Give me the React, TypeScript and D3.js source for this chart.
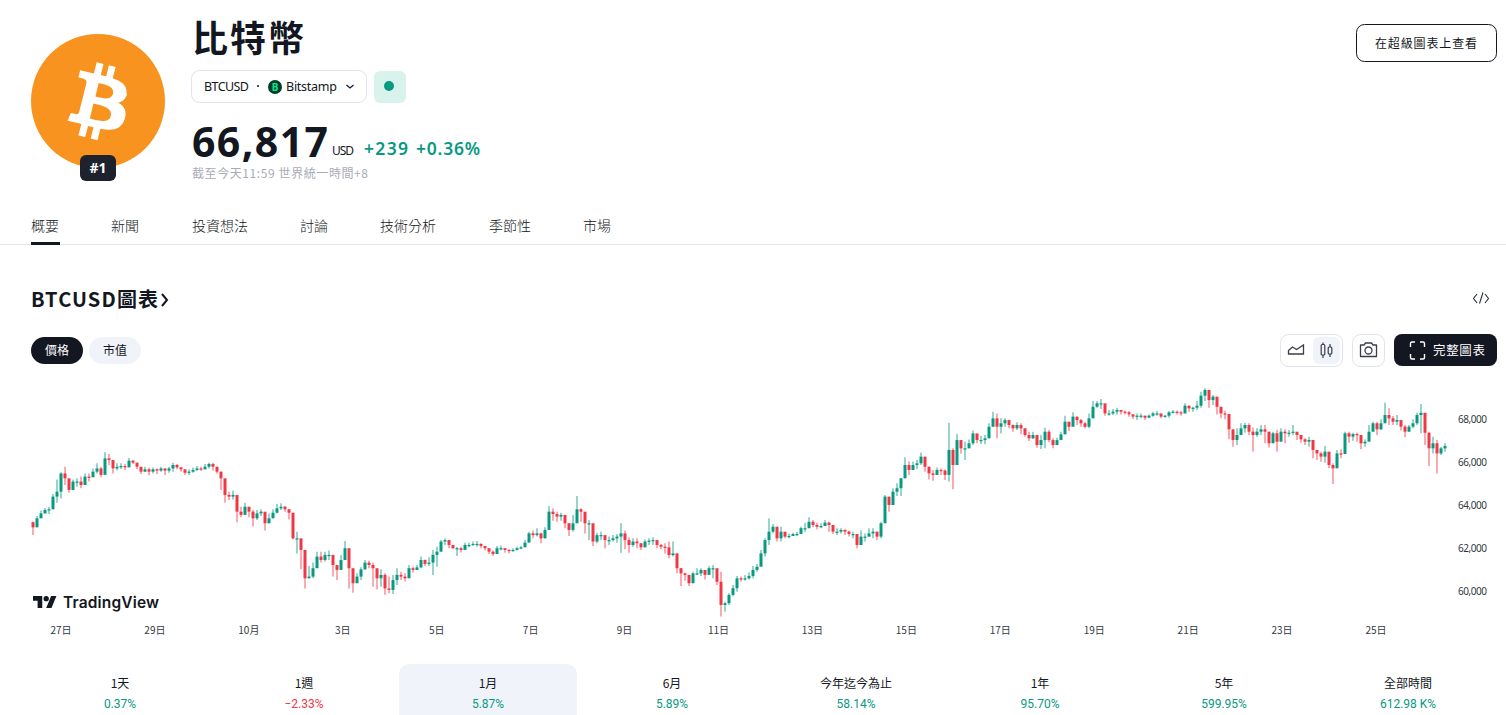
import React from "react";
import * as d3 from "d3";

const UP = "#089981";
const DOWN = "#F23645";
const INK = "#131722";
const CJK = "'Noto Sans CJK TC','Noto Sans',sans-serif";
const LATIN = "'Noto Sans','Noto Sans CJK TC',sans-serif";

const firstOpen = 63200;
const closes = [
  62960,63380,63610,63770,63800,64390,64620,65470,65240,64700,65090,65090,64930,65320,65290,65550,65700,65400,66170,66090,65700,65780,65810,65750,66060,65970,65780,65550,65660,65550,65660,65600,65700,65600,65700,65860,65750,65660,65500,65550,65630,65700,65660,65780,65910,65780,65550,65240,64470,64390,64470,63690,63540,63920,63690,63380,63610,63690,63150,
  63380,63640,63845,63920,63800,63640,62450,62450,61910,60590,60670,61060,61600,61440,61680,61680,61210,60980,61440,61990,61060,60360,60670,61010,61320,61210,61060,60590,60750,60120,60050,60510,60750,60670,60590,61060,60980,61100,61440,61260,61320,61680,61830,62300,62370,62140,61990,61990,61910,62140,62140,62190,62190,62090,61990,61830,61720,61990,61990,
  61910,61880,61910,61990,62030,62250,62680,62600,62680,62450,62840,63690,63580,63460,63540,63150,62840,63150,63800,63690,63150,63150,62300,62600,62600,62370,62370,62450,62530,62680,62370,62140,62300,62220,62030,62300,62340,62370,62140,62060,62030,61670,61750,61060,60820,60750,60360,60820,60820,60980,60750,61060,61060,60430,59350,59430,59820,60130,60590,60540,
  60590,60700,60980,61130,61750,62370,62760,62990,62450,62760,62530,62560,62650,62650,62920,62920,63220,63070,62990,63020,63180,63070,62760,62760,62840,62760,62650,62650,62140,62530,62530,62680,62760,62530,63150,64390,64000,64620,64780,65240,65860,65630,65860,65940,66250,65780,65470,65400,65630,65600,65400,66560,65860,67020,66635,66635,66870,67330,67020,67020,
  67100,67640,68030,67640,67800,67950,67720,67565,67720,67565,67255,67100,67255,66790,67020,67410,67020,66790,67020,67285,67875,67640,68110,67950,67800,67640,68030,68570,68730,68730,68260,68260,68340,68420,68340,68310,68215,68110,68155,68155,68060,68155,68260,68260,68110,68155,68310,68340,68310,68260,68620,68495,68525,68620,69085,69350,68880,69040,68570,68260,
  68230,67520,67025,67255,67565,67720,67410,67255,67410,67520,67410,66870,67335,66945,67410,67335,67360,67410,67255,67055,66945,67025,66560,66400,66250,66480,65860,65705,66400,66370,67335,67180,67300,67255,66870,66945,67410,67800,67520,67800,68185,68030,67875,67950,67645,67410,67645,67800,68185,68290,67360,66635,66870,66400,66635,66745,
];
const highs = [
  63230,63490,63740,63850,63920,64510,65190,65520,65780,65160,65190,65240,65320,65470,65470,65700,65940,65780,66450,66370,65940,65940,65940,65910,66190,66090,65910,65750,65780,65750,65750,65700,65780,65700,65780,65970,65910,65750,65630,65660,65750,65810,65780,65910,65970,65970,65750,65550,64730,64620,64670,64310,63920,64110,63850,63770,63770,63800,63540,
  63610,63800,64050,64080,63950,63800,62990,62760,62370,61600,61160,61320,61830,61830,61830,61880,61470,61210,61680,62330,61630,60900,60820,61100,61440,61410,61320,60980,61010,60820,60670,60750,61060,60900,60820,61210,61130,61210,61600,61470,61570,61910,62060,62370,62450,62370,62140,62060,62060,62250,62250,62300,62330,62220,62090,61940,61880,62090,62120,
  61990,61940,61990,62060,62090,62370,62760,62810,62920,62710,62960,63950,63850,63690,63640,63540,63150,63540,64420,63850,63430,63300,62680,62710,62760,62530,62530,62600,62650,63150,62810,62500,62450,62450,62220,62400,62450,62500,62300,62190,62220,62300,62300,61750,61060,60850,60590,60900,61060,61060,60980,61160,61210,60900,60900,59500,59890,60280,60700,60670,
  60750,60860,61160,61260,61910,62450,63380,63120,62920,62990,62710,62680,62710,62745,62990,63180,63430,63300,63180,63150,63300,63220,62920,62920,62920,62870,62810,62760,62600,62810,62680,62920,62920,62760,63220,64470,64160,64780,65010,65240,66220,66020,66020,66090,66440,66090,65780,65630,65750,65700,65660,67830,66635,67300,67020,66945,67050,67460,67300,67210,
  67255,67800,68340,68260,68030,68030,67905,67750,67845,67800,67565,67410,67410,67255,67255,67595,67490,67100,67130,67410,68155,67800,68310,68110,68000,67875,68260,68840,68840,68930,68495,68420,68465,68525,68420,68400,68370,68215,68260,68260,68155,68215,68340,68370,68215,68185,68370,68420,68400,68370,68730,68620,68570,68840,69270,69425,69145,69115,68805,68465,
  68385,68030,67410,67565,67800,67830,67800,67610,67565,67720,67720,67055,67410,67490,67565,67520,67490,67720,67335,67255,67100,67180,66870,66560,66480,66745,66125,65940,66560,66590,67410,67410,67360,67360,67180,67055,67720,67875,67875,67985,68760,68495,68140,68185,67800,67720,67720,67985,68290,68700,67800,67410,67180,67025,66715,66870,
];
const lows = [
  62600,63230,63490,63610,63580,64080,64110,64310,64930,64570,64700,64850,64780,65090,65090,65320,65470,65290,65700,65860,65470,65600,65660,65630,65910,65910,65660,65440,65550,65380,65470,65440,65550,65400,65500,65550,65660,65550,65400,65400,65500,65580,65580,65660,65700,65600,65470,64700,64110,64230,64260,63200,63430,63580,63430,63000,63300,63490,62810,
  63150,63380,63610,63770,63690,63330,62400,61750,61010,60120,60590,60590,61440,61320,61370,61440,60670,60510,61060,61520,60120,59920,60510,60510,60980,61060,60200,60080,60200,59820,59890,59860,60280,60510,60440,60670,60850,60980,61060,61160,61160,60750,61130,61830,62140,61990,61940,61630,61790,61990,62030,62110,62060,61990,61880,61720,61630,61830,61880,
  61780,61750,61830,61880,61940,62060,62370,62450,62530,62220,62450,62870,63270,63220,63270,62920,62560,62760,63430,63220,62680,62370,62090,62220,62370,61990,62140,62300,62250,61780,61940,61780,62060,61990,61910,62060,62140,62140,61990,61940,61750,61520,61600,60820,60230,60480,60230,60700,60750,60700,60540,60900,60590,60280,58810,59040,59350,59740,59970,60430,
  60480,60540,60590,60900,61210,61600,62140,62680,62300,62300,62450,62450,62560,62560,62710,62760,62920,62960,62870,62920,63020,62760,62650,62600,62680,62600,62530,62450,61990,62250,62300,62530,62450,62370,62450,63610,63690,64260,64420,64420,65470,65400,65630,65660,65860,65550,65190,65130,65400,65400,65160,65090,64730,66480,66400,66090,66635,66790,66870,66840,
  66820,67100,67640,67100,67330,67640,67565,67410,67490,67285,67180,66975,67070,66665,66605,66635,66915,66635,66820,67130,67410,67440,67720,67720,67640,67565,67565,68110,68525,68465,68155,68155,68185,68215,68215,68215,68110,68000,67950,68030,67950,68060,68110,68155,68030,68060,68060,68260,68215,68155,68260,68340,68340,68420,68525,68840,68525,68650,68215,68030,
  67985,67055,66715,66790,67335,67360,67255,66480,67180,67255,66870,66680,66990,66480,67025,66870,67180,67255,67025,66900,66790,66715,66170,66090,66015,65970,65705,64977,66015,66170,66435,66900,66990,66945,66590,66715,67180,67410,67255,67490,67875,67720,67720,67720,67460,67150,67410,67565,67720,67335,66790,65815,66400,65470,66325,66480,
];

const priceTicks = [60000, 62000, 64000, 66000, 68000];
const timeLabels = ["27日","29日","10月","3日","5日","7日","9日","11日","13日","15日","17日","19日","21日","23日","25日"];
const navLabels = ["概要","新聞","投資想法","討論","技術分析","季節性","市場"];
const navStarts = [31,111,192,300,380,489,583];
const periodLabels = ["1天","1週","1月","6月","今年迄今為止","1年","5年","全部時間"];
const periodValues = ["0.37%","−2.33%","5.87%","5.89%","58.14%","95.70%","599.95%","612.98 K%"];

const W = 1506, H = 715;
const x = d3.scaleLinear().domain([0, 353]).range([33, 1445]);
const y = d3.scaleLinear().domain([60000, 68000]).range([591, 419]);
const tx = d3.scaleLinear().domain([0, timeLabels.length - 1]).range([61, 1376]);
const px = d3.scaleLinear().domain([0, periodLabels.length - 1]).range([120, 1408]);
const fmt = d3.format(",");

const BTC = "M46.1 27.4c.6-4.3-2.6-6.6-7.1-8.1l1.5-5.8-3.5-.9-1.4 5.7c-.9-.2-1.9-.5-2.8-.7l1.4-5.7-3.5-.9-1.5 5.8c-.8-.2-1.5-.3-2.2-.5l-4.9-1.2-.9 3.8s2.6.6 2.6.6c1.4.4 1.7 1.3 1.6 2l-1.6 6.5-2.3 9.1c-.2.4-.6 1.1-1.6.8 0 0-2.6-.6-2.6-.6l-1.7 4 4.6 1.1c.9.2 1.7.4 2.5.6l-1.5 5.9 3.5.9 1.5-5.8c1 .3 1.9.5 2.8.7l-1.4 5.8 3.5.9 1.5-5.9c6 1.1 10.6.7 12.5-4.8 1.5-4.4-.1-7-3.3-8.7 2.4-.5 4.2-2.1 4.7-5.3zm-8.1 11.4c-1.1 4.4-8.5 2-10.9 1.4l1.9-7.8c2.4.6 10.2 1.8 9 6.4zm1.1-11.5c-1 4-7.2 2-9.1 1.5l1.7-7c2 .5 8.5 1.4 7.4 5.5z";

function Candles() {
  return (
    <g>
      {closes.map((c, i) => {
        const o = i === 0 ? firstOpen : closes[i - 1];
        const col = c >= o ? UP : DOWN;
        const top = Math.min(y(o), y(c));
        const h = Math.max(1.2, Math.abs(y(o) - y(c)));
        return (
          <g key={i}>
            <line x1={x(i)} x2={x(i)} y1={y(highs[i])} y2={y(lows[i])} stroke={col} strokeWidth={2} strokeOpacity={0.42} />
            <rect x={x(i) - 1.5} width={3} y={top} height={h} fill={col} />
          </g>
        );
      })}
    </g>
  );
}

export default function App() {
  return (
    <svg width={W} height={H} viewBox={`0 0 ${W} ${H}`} style={{ position: "absolute", left: 0, top: 0, background: "#fff" }}>
      {/* header */}
      <circle cx={98} cy={101} r={67} fill="#F7931E" />
      <g transform="translate(37.5,41) scale(1.93)"><path d={BTC} fill="#fff" /></g>
      <rect x={80} y={155} width={36} height={26} rx={6} fill="#1E222D" />
      <text x={98} y={173} textAnchor="middle" fontFamily={LATIN} fontWeight={700} fontSize={14} fill="#fff">#1</text>
      <text x={192} y={52} fontFamily={CJK} fontWeight={600} fontSize={36} fill={INK} textLength={112}>比特幣</text>

      <rect x={191.5} y={70.5} width={175} height={32} rx={8} fill="#fff" stroke="#E0E3EB" />
      <text x={204} y={91} fontFamily={LATIN} fontSize={12.5} fill={INK} textLength={45}>BTCUSD</text>
      <circle cx={258} cy={86} r={1} fill={INK} />
      <circle cx={275} cy={87} r={7} fill="#003F2B" />
      <text x={275} y={91} textAnchor="middle" fontFamily={LATIN} fontWeight={700} fontSize={10} fill="#19E08A">B</text>
      <text x={286} y={91} fontFamily={LATIN} fontSize={12.5} fill={INK} textLength={51}>Bitstamp</text>
      <path d="M346.5 85l3.5 3 3.5-3" fill="none" stroke={INK} strokeWidth={1.2} />
      <rect x={374} y={71} width={32} height={32} rx={6} fill="#DAF2EC" />
      <circle cx={389} cy={86} r={5} fill={UP} />

      <text x={192} y={156.5} fontFamily={LATIN} fontWeight={700} fontSize={41} fill={INK} textLength={136}>66,817</text>
      <text x={332} y={155} fontFamily={LATIN} fontSize={12} fill={INK} textLength={22}>USD</text>
      <text x={364} y={155} fontFamily={LATIN} fontWeight={600} fontSize={17.5} fill={UP} textLength={44}>+239</text>
      <text x={416} y={155} fontFamily={LATIN} fontWeight={600} fontSize={17.5} fill={UP} textLength={64}>+0.36%</text>
      <text x={192} y={178} fontFamily={CJK} fontSize={12} fill="#A8ACB8" textLength={176}>截至今天11:59 世界統一時間+8</text>

      <rect x={1356.5} y={24.5} width={140} height={37} rx={8} fill="#fff" stroke={INK} />
      <text x={1426} y={48} textAnchor="middle" fontFamily={CJK} fontSize={12} fill={INK} textLength={102}>在超級圖表上查看</text>

      {/* tabs */}
      {navLabels.map((t, i) => (
        <text key={t} x={navStarts[i]} y={231} fontFamily={CJK} fontWeight={300} fontSize={14} fill={INK}>{t}</text>
      ))}
      <line x1={0} x2={W} y1={244.5} y2={244.5} stroke="#E0E3EB" />
      <rect x={31} y={242} width={29} height={3} fill={INK} />

      {/* section head */}
      <text x={31} y={307} fontFamily={CJK} fontWeight={600} fontSize={20} fill={INK} textLength={127}>BTCUSD圖表</text>
      <path d="M162 294l5 6-5 6" fill="none" stroke={INK} strokeWidth={2} />
      <path d="M1477 294l-3.500 4.500 3.500 4.500M1485 294l3.500 4.500-3.500 4.500M1483 292.500l-3.500 11" fill="none" stroke="#2A2E39" strokeWidth={1.1} />

      <rect x={31} y={337} width={52} height={27} rx={13.5} fill={INK} />
      <text x={57} y={355} textAnchor="middle" fontFamily={CJK} fontSize={12} fill="#fff">價格</text>
      <rect x={89} y={337} width={52} height={27} rx={13.5} fill="#F0F3FA" />
      <text x={115} y={355} textAnchor="middle" fontFamily={CJK} fontSize={12} fill={INK}>市值</text>

      <rect x={1280.5} y={334.5} width={62} height={32} rx={8} fill="#fff" stroke="#E0E3EB" />
      <rect x={1313} y={337} width={27} height={27} rx={6} fill="#F0F3FA" />
      <path d="M1288.500 350.500l4-3.500 4 2.500 7-4.500v9h-15z" fill="none" stroke="#3A3E49" strokeWidth={1.3} />
      <path d="M1323 342.500v2M1323 355v3M1330 344v3M1330 354v3" stroke="#3A3E49" strokeWidth={1.2} />
      <rect x={1321.2} y={344.500} width={3.600} height={10.500} rx={1} fill="none" stroke="#3A3E49" strokeWidth={1.2} />
      <rect x={1328.200} y={347} width={3.600} height={7} rx={1} fill="none" stroke="#3A3E49" strokeWidth={1.2} />

      <rect x={1352.5} y={334.5} width={32} height={32} rx={8} fill="#fff" stroke="#E0E3EB" />
      <path d="M1360.500 345h3.500l1.500-2h6l1.500 2h3.500v11.500h-16z" fill="none" stroke="#3A3E49" strokeWidth={1.3} strokeLinejoin="round" />
      <circle cx={1368.500} cy={350.500} r={3.500} fill="none" stroke="#3A3E49" strokeWidth={1.3} />

      <rect x={1394} y={334} width={103} height={32} rx={8} fill={INK} />
      <path d="M1410.500 347v-3.500q0-1.500 1.500-1.500h3M1420 342h3q1.500 0 1.500 1.500v3.500M1424.500 354v3.500q0 1.500-1.500 1.500h-3M1415 359h-3q-1.500 0-1.500-1.500v-3.500" fill="none" stroke="#fff" strokeWidth={1.4} />
      <text x={1433} y={355} fontFamily={CJK} fontSize={12.5} fill="#fff" textLength={52}>完整圖表</text>

      {/* chart */}
      <Candles />
      {priceTicks.map((p) => (
        <text key={p} x={1458} y={y(p) + 3.5} fontFamily={LATIN} fontSize={10} fill="#333842" textLength={29}>{fmt(p)}</text>
      ))}
      {timeLabels.map((t, i) => (
        <text key={t} x={tx(i)} y={634} textAnchor="middle" fontFamily={CJK} fontSize={10} fill="#333842">{t}</text>
      ))}

      <g transform="translate(33,593.4) scale(0.66)" fill={INK}>
        <path d="M14 22H7V11H0V4h14v18zM28 22h-8l7.500-18h8L28 22z" />
        <circle cx={20} cy={8} r={4} />
      </g>
      <text x={63} y={608} fontFamily="Inter,'Noto Sans',sans-serif" fontWeight={600} fontSize={15.5} fill={INK} textLength={96}>TradingView</text>

      {/* performance strip */}
      <path d="M399 715v-39q0-12 12-12h154q12 0 12 12v39z" fill="#F0F3FA" />
      {periodLabels.map((t, i) => (
        <text key={t} x={px(i)} y={688} textAnchor="middle" fontFamily={CJK} fontSize={12} fill={INK}>{t}</text>
      ))}
      {periodValues.map((t, i) => (
        <text key={t} x={px(i)} y={708} textAnchor="middle" fontFamily="Roboto,sans-serif" fontSize={12} fill={t.startsWith("−") ? DOWN : UP}>{t}</text>
      ))}
    </svg>
  );
}
